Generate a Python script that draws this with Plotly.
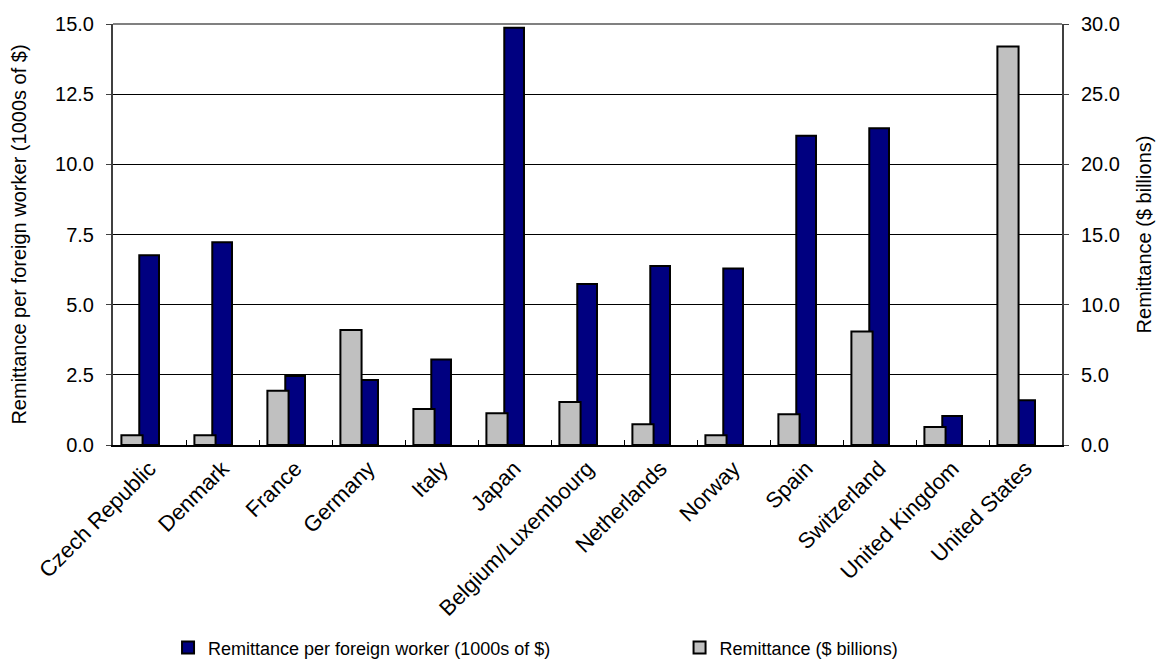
import plotly.graph_objects as go

countries = ["Czech Republic", "Denmark", "France", "Germany", "Italy", "Japan",
             "Belgium/Luxembourg", "Netherlands", "Norway", "Spain", "Switzerland",
             "United Kingdom", "United States"]
per_worker = [6.76, 7.22, 2.46, 2.32, 3.05, 14.87, 5.74, 6.38, 6.29, 11.02, 11.29, 1.03, 1.59]
remittance = [0.69, 0.69, 3.87, 8.2, 2.57, 2.26, 3.06, 1.47, 0.69, 2.19, 8.08, 1.28, 28.4]

FONT = "Liberation Sans, Arial, sans-serif"

fig = go.Figure()
fig.add_trace(go.Bar(
    x=countries, y=remittance, name="Remittance ($ billions)", yaxis="y2",
    marker=dict(color="#C0C0C0", line=dict(color="black", width=2)),
    width=0.29, offset=-0.385, legend="legend2",
))
fig.add_trace(go.Bar(
    x=countries, y=per_worker, name="Remittance per foreign worker (1000s of $)", yaxis="y",
    marker=dict(color="#000080", line=dict(color="black", width=2)),
    width=0.27, offset=-0.14, legend="legend",
))

fig.update_layout(
    width=1167, height=659,
    margin=dict(l=113, r=105, t=24, b=214, autoexpand=False),
    paper_bgcolor="white", plot_bgcolor="white",
    font=dict(family=FONT, size=20, color="black"),
    barmode="overlay",
    showlegend=True,
    legend=dict(orientation="h", x=0.058, xanchor="left", y=0.017, yref="container",
                yanchor="middle", font=dict(size=18), itemclick=False,
                bgcolor="rgba(0,0,0,0)"),
    legend2=dict(orientation="h", x=0.597, xanchor="left", y=0.017, yref="container",
                 yanchor="middle", font=dict(size=18), itemclick=False,
                 bgcolor="rgba(0,0,0,0)"),
    xaxis=dict(
        tickangle=-45, showline=True, linecolor="black", linewidth=2,
        ticks="inside", tickson="boundaries", ticklen=5, tickcolor="black",
        tickfont=dict(size=22), showgrid=False, automargin=False,
    ),
    yaxis=dict(
        range=[0, 15], dtick=2.5, tickformat=".1f",
        showline=True, linecolor="#404040", linewidth=2,
        ticks="outside", ticklen=5, tickcolor="#404040", ticklabelstandoff=8,
        showgrid=True, gridcolor="black", gridwidth=1, automargin=False,
        title=dict(text="Remittance per foreign worker (1000s of $)", font=dict(size=20), standoff=23),
        zeroline=False,
    ),
    yaxis2=dict(
        range=[0, 30], dtick=5, tickformat=".1f", overlaying="y", side="right",
        showline=True, linecolor="#404040", linewidth=2,
        ticks="outside", ticklen=5, tickcolor="#404040", ticklabelstandoff=8,
        showgrid=False, zeroline=False, automargin=False,
        title=dict(text="Remittance ($ billions)", font=dict(size=20), standoff=18),
    ),
)

fig.add_shape(type="line", xref="paper", yref="paper", x0=0, x1=1, y0=1, y1=1,
              line=dict(color="#808080", width=2))

fig.write_html("out.html")
